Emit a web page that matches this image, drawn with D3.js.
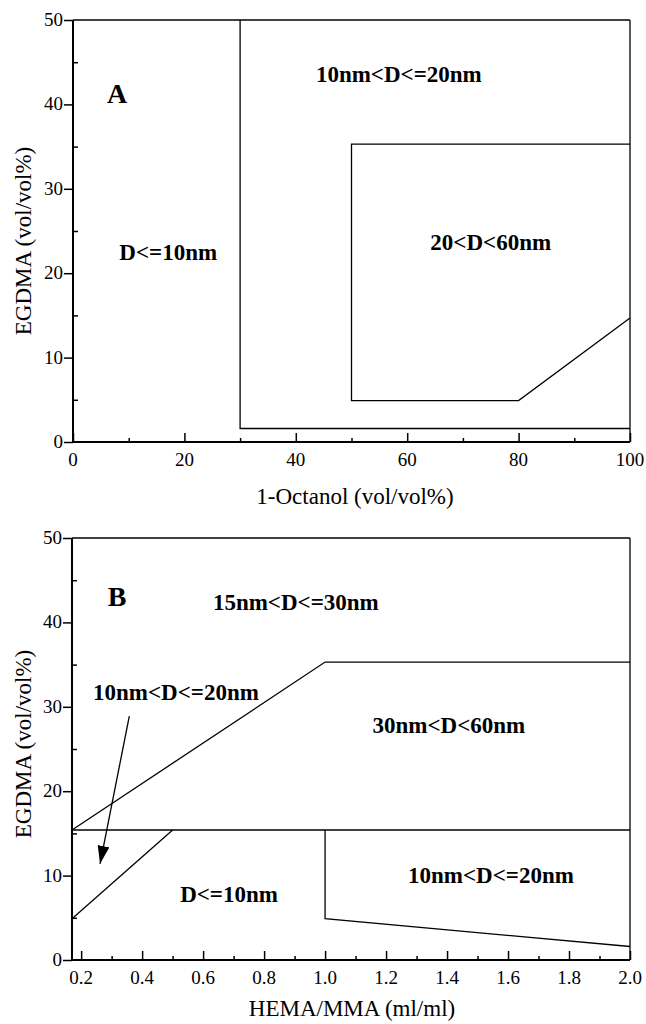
<!DOCTYPE html>
<html lang="en">
<head>
    <meta charset="UTF-8">
    <title>Particle size regions</title>
    <script src="https://d3js.org/d3.v7.min.js"></script>
    <style>
        body {
            margin: 0;
            background-color: #fff;
        }
        svg {
            display: block;
        }
        text {
            font-family: "Times New Roman", "Liberation Serif", serif;
            fill: #000;
        }
        .tick-label {
            font-size: 19px;
        }
        .axis-title {
            font-size: 23px;
        }
        .region {
            font-size: 23px;
            font-weight: bold;
        }
        .panel-tag {
            font-size: 28px;
            font-weight: bold;
        }
        .bound {
            fill: none;
            stroke: #000;
            stroke-width: 1.3px;
        }
    </style>
</head>
<body>
    <svg width="646" height="1024"></svg>
    <script>
        // Panel A: 1-Octanol vs EGDMA
        const aXTicks = [0, 20, 40, 60, 80, 100];
        const aXMinor = [10, 30, 50, 70, 90];
        const aYTicks = [0, 10, 20, 30, 40, 50];
        const aLines = [
            [[0, 50], [100, 50]],
            [[100, 0], [100, 50]],
            [[30, 50], [30, 1.6], [100, 1.6]],
            [[100, 35.3], [50, 35.3], [50, 4.9], [80, 4.9], [100, 14.7]]
        ];
        const aLabels = [
            {text: "10nm<D<=20nm", x: 58.5, y: 42.6},
            {text: "20<D<60nm", x: 75.0, y: 22.7},
            {text: "D<=10nm", x: 17.1, y: 21.6}
        ];

        // Panel B: HEMA/MMA vs EGDMA
        const bXTicks = [0.2, 0.4, 0.6, 0.8, 1.0, 1.2, 1.4, 1.6, 1.8, 2.0];
        const bXMinor = [0.3, 0.5, 0.7, 0.9, 1.1, 1.3, 1.5, 1.7, 1.9];
        const bYTicks = [0, 10, 20, 30, 40, 50];
        const bLines = [
            [[0.17, 50], [2.0, 50]],
            [[2.0, 0], [2.0, 50]],
            [[0.17, 15.4], [2.0, 15.4]],
            [[0.17, 15.4], [1.0, 35.3], [2.0, 35.3]],
            [[0.17, 4.9], [0.5, 15.4]],
            [[1.0, 15.4], [1.0, 4.9], [2.0, 1.6]]
        ];
        const bLabels = [
            {text: "15nm<D<=30nm", x: 0.904, y: 41.5},
            {text: "10nm<D<=20nm", x: 0.511, y: 30.8},
            {text: "30nm<D<60nm", x: 1.406, y: 26.95},
            {text: "D<=10nm", x: 0.685, y: 6.9},
            {text: "10nm<D<=20nm", x: 1.544, y: 9.15}
        ];
        const bArrow = [[0.358, 28.9], [0.262, 11.4]];

        const yMinor = [5, 15, 25, 35, 45];

        const svg = d3.select("svg");

        svg.append("defs").append("marker")
            .attr("id", "head")
            .attr("viewBox", "0 0 18 12")
            .attr("refX", 18)
            .attr("refY", 6)
            .attr("markerWidth", 18)
            .attr("markerHeight", 12)
            .attr("markerUnits", "userSpaceOnUse")
            .attr("orient", "auto")
            .append("path")
            .attr("d", "M0,0 L18,6 L0,12 Z")
            .attr("fill", "#000");

        function drawPanel(opt) {
            const x = d3.scaleLinear().domain(opt.xDomain).range([opt.left, opt.right]);
            const y = d3.scaleLinear().domain([0, 50]).range([opt.bottom, opt.top]);
            const g = svg.append("g");

            const line = d3.line().x(d => x(d[0])).y(d => y(d[1]));
            g.selectAll("path.bound")
                .data(opt.lines)
                .enter().append("path")
                .attr("class", "bound")
                .attr("d", line);

            // x axis: ticks point inward (up)
            g.append("g")
                .attr("transform", `translate(0,${opt.bottom})`)
                .call(d3.axisTop(x).tickValues(opt.xMinor).tickSize(4).tickFormat(""))
                .call(s => s.select(".domain").remove())
                .selectAll("line").attr("stroke-width", 1.5);
            g.append("g")
                .attr("transform", `translate(0,${opt.bottom})`)
                .call(d3.axisTop(x).tickValues(opt.xTicks).tickSize(9).tickFormat(""))
                .call(s => s.select(".domain").remove())
                .selectAll("line").attr("stroke-width", 1.5);
            g.selectAll("text.xt")
                .data(opt.xTicks)
                .enter().append("text")
                .attr("class", "tick-label")
                .attr("x", d => x(d))
                .attr("y", opt.bottom + 24)
                .attr("text-anchor", "middle")
                .text(opt.xFormat);

            // y axis: major ticks outward, minor inward
            g.append("g")
                .attr("transform", `translate(${opt.left},0)`)
                .call(d3.axisLeft(y).tickValues(opt.yTicks).tickSize(9).tickFormat(""))
                .call(s => s.select(".domain").remove())
                .selectAll("line").attr("stroke-width", 1.5);
            g.append("g")
                .attr("transform", `translate(${opt.left},0)`)
                .call(d3.axisRight(y).tickValues(yMinor).tickSize(5).tickFormat(""))
                .call(s => s.select(".domain").remove())
                .selectAll("line").attr("stroke-width", 1.5);
            g.selectAll("text.yt")
                .data(opt.yTicks)
                .enter().append("text")
                .attr("class", "tick-label")
                .attr("x", opt.left - 10)
                .attr("y", d => y(d) + 6)
                .attr("text-anchor", "end")
                .text(d => d);

            // axis lines
            g.append("line")
                .attr("x1", opt.left).attr("x2", opt.left)
                .attr("y1", opt.top).attr("y2", opt.bottom)
                .attr("stroke", "#000").attr("stroke-width", 2);
            g.append("line")
                .attr("x1", opt.left).attr("x2", opt.right)
                .attr("y1", opt.bottom).attr("y2", opt.bottom)
                .attr("stroke", "#000").attr("stroke-width", 2);

            g.append("text")
                .attr("class", "axis-title")
                .attr("x", opt.titleX)
                .attr("y", opt.titleY)
                .attr("text-anchor", "middle")
                .text(opt.xTitle);
            g.append("text")
                .attr("class", "axis-title")
                .attr("transform", `translate(31,${opt.yTitleY}) rotate(-90)`)
                .attr("text-anchor", "middle")
                .text("EGDMA (vol/vol%)");

            g.append("text")
                .attr("class", "panel-tag")
                .attr("x", x(opt.tag.x))
                .attr("y", y(opt.tag.y))
                .attr("text-anchor", "middle")
                .text(opt.tag.text);

            g.selectAll("text.region")
                .data(opt.labels)
                .enter().append("text")
                .attr("class", "region")
                .attr("x", d => x(d.x))
                .attr("y", d => y(d.y))
                .attr("text-anchor", "middle")
                .text(d => d.text);

            if (opt.arrow) {
                g.append("path")
                    .attr("class", "bound")
                    .attr("d", line(opt.arrow))
                    .attr("marker-end", "url(#head)");
            }
        }

        drawPanel({
            xDomain: [0, 100], left: 73, right: 630, top: 20, bottom: 442,
            xTicks: aXTicks, xMinor: aXMinor, yTicks: aYTicks,
            xFormat: d => d,
            lines: aLines, labels: aLabels,
            tag: {text: "A", x: 7.9, y: 40.2},
            xTitle: "1-Octanol (vol/vol%)", titleX: 355, titleY: 504, yTitleY: 241
        });

        drawPanel({
            xDomain: [0.17, 2.0], left: 72, right: 630, top: 538, bottom: 960,
            xTicks: bXTicks, xMinor: bXMinor, yTicks: bYTicks,
            xFormat: d3.format(".1f"),
            lines: bLines, labels: bLabels, arrow: bArrow,
            tag: {text: "B", x: 0.318, y: 41.9},
            xTitle: "HEMA/MMA (ml/ml)", titleX: 352, titleY: 1016, yTitleY: 744
        });
    </script>
</body>
</html>
